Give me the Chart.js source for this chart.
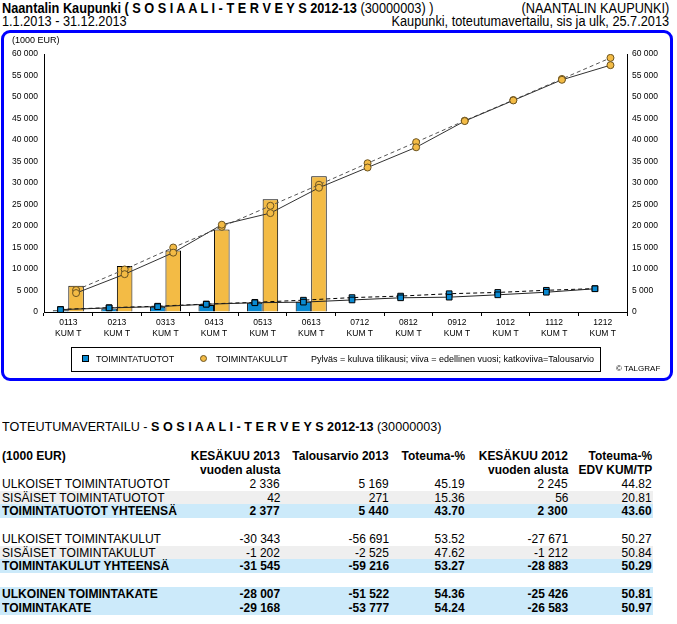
<!DOCTYPE html>
<html>
<head>
<meta charset="utf-8">
<script src="https://cdn.jsdelivr.net/npm/chart.js@4.4.0/dist/chart.umd.min.js"></script>
<style>
body{margin:0;width:677px;height:624px;background:#fff;position:relative;overflow:hidden;
  font-family:"Liberation Sans",Arial,sans-serif;color:#000}
.abs{position:absolute;white-space:nowrap}
.h{font-size:14px;line-height:14px}
.nl{transform:scaleX(0.91);transform-origin:left center}
.nr{transform:scaleX(0.91);transform-origin:right center}
#frame{position:absolute;left:1px;top:30px;width:666px;height:345px;border:3px solid #0000ff;border-radius:9px}
#chartBox{position:absolute;left:0;top:0;width:677px;height:390px}
#legend{position:absolute;left:71px;top:347px;width:528px;height:23px;border:1px solid #000;font-size:9px}
#legend span{position:absolute;top:6px;white-space:nowrap}
.sq{position:absolute;width:5px;height:5px;border:1px solid #000;background:#0a8ad2;top:7px}
.dot{position:absolute;width:5px;height:5px;border:1px solid #6b5320;border-radius:50%;background:#f3bb45;top:7px}
.row{position:absolute;left:0;width:653px;height:14px;font-size:13px;line-height:14px}
.row div{position:absolute;top:0;white-space:nowrap}
.row .cl{transform:scaleX(0.93);transform-origin:left center}
.row .cr{transform:scaleX(0.92);transform-origin:right center}
.g{background:#efefef}
.b{background:#cceafa;font-weight:bold}
.hd{font-weight:bold}
</style>
</head>
<body>
<div class="abs h nl" style="left:2px;top:1px;font-weight:bold">Naantalin Kaupunki ( S O S I A A L I - T E R V E Y S 2012-13 <span style="font-weight:normal">(30000003) )</span></div>
<div class="abs h nr" style="right:8px;top:1px">(NAANTALIN KAUPUNKI)</div>
<div class="abs h nl" style="left:2px;top:14px">1.1.2013 - 31.12.2013</div>
<div class="abs h nr" style="right:8px;top:14px">Kaupunki, toteutumavertailu, sis ja ulk, 25.7.2013</div>

<div id="chartBox"><canvas id="c" width="677" height="390"></canvas></div>
<div id="frame"></div>
<div class="abs" style="left:12px;top:35px;font-size:9px">(1000 EUR)</div>

<div id="legend">
  <div class="sq" style="left:10px"></div><span style="left:24px">TOIMINTATUOTOT</span>
  <div class="dot" style="left:128px"></div><span style="left:144px">TOIMINTAKULUT</span>
  <span style="left:239px">Pylväs = kuluva tilikausi; viiva = edellinen vuosi; katkoviiva=Talousarvio</span>
</div>
<div class="abs" style="left:616px;top:364px;font-size:8px">© TALGRAF</div>

<div class="abs" style="left:2px;top:420px;font-size:13px;line-height:14px;transform:scaleX(0.97);transform-origin:left center">TOTEUTUMAVERTAILU - <b>S O S I A A L I - T E R V E Y S 2012-13</b> (30000003)</div>
<div id="table"></div>

<script>
// x-akselin kuukaudet
const months = ['0113','0213','0313','0413','0513','0613','0712','0812','0912','1012','1112','1212'];
// pylväät = kuluva tilikausi (kumulatiivinen, 1000 EUR)
const tuotot2013 = [400, 800, 1200, 1650, 2150, 2377];
const kulut2013 = [6100, 10700, 14300, 19200, 26200, 31545];
// viiva = edellinen vuosi
const tuototEdv = [550, 950, 1250, 1800, 2150, 2300, 2800, 3300, 3450, 4000, 4600, 5400];
const kulutEdv = [4400, 8800, 13800, 20300, 23000, 28900, 33600, 38300, 44400, 49200, 54000, 57400];
// katkoviiva = talousarvio
const tuototTA = [600, 1000, 1350, 1850, 2250, 2750, 3350, 3700, 4250, 4550, 5050, 5440];
const kulutTA = [5100, 9900, 15000, 19800, 24700, 29600, 34600, 39500, 44500, 49300, 54200, 59100];

const yTicks = [0, 5000, 10000, 15000, 20000, 25000, 30000, 35000, 40000, 45000, 50000, 55000, 60000];

// taulukko
const colRight = [280, 389, 465, 568, 652];
const headRows = [
  ['(1000 EUR)', 'KESÄKUU 2013', 'Talousarvio 2013', 'Toteuma-%', 'KESÄKUU 2012', 'Toteuma-%'],
  ['', 'vuoden alusta', '', '', 'vuoden alusta', 'EDV KUM/TP']
];
const tableRows = [
  ['ULKOISET TOIMINTATUOTOT', '2 336', '5 169', '45.19', '2 245', '44.82', ''],
  ['SISÄISET TOIMINTATUOTOT', '42', '271', '15.36', '56', '20.81', 'g'],
  ['TOIMINTATUOTOT YHTEENSÄ', '2 377', '5 440', '43.70', '2 300', '43.60', 'b'],
  null,
  ['ULKOISET TOIMINTAKULUT', '-30 343', '-56 691', '53.52', '-27 671', '50.27', ''],
  ['SISÄISET TOIMINTAKULUT', '-1 202', '-2 525', '47.62', '-1 212', '50.84', 'g'],
  ['TOIMINTAKULUT YHTEENSÄ', '-31 545', '-59 216', '53.27', '-28 883', '50.29', 'b'],
  null,
  ['ULKOINEN TOIMINTAKATE', '-28 007', '-51 522', '54.36', '-25 426', '50.81', 'b'],
  ['TOIMINTAKATE', '-29 168', '-53 777', '54.24', '-26 583', '50.97', 'b']
];

function rowHtml(cells, y, cls) {
  let h = '<div class="row ' + cls + '" style="top:' + y + 'px"><div class="cl" style="left:2px">' + cells[0] + '</div>';
  for (let i = 1; i < 6; i++) {
    h += '<div class="cr" style="right:' + (653 - colRight[i - 1]) + 'px">' + cells[i] + '</div>';
  }
  return h + '</div>';
}
let html = '';
let rowY = 449;
headRows.forEach(r => { html += rowHtml(r, rowY, 'hd'); rowY += 13.5; });
rowY = 477;
tableRows.forEach(r => {
  if (r === null) { rowY += 14.5; return; }
  html += rowHtml(r, rowY, r[6]);
  rowY += 13.5;
});
document.getElementById('table').innerHTML = html;

// pylväsryhmän leveys kategoriasta; viivojen pisteet pylväiden keskelle
const BAR_GROUP = 0.64;
const shift = BAR_GROUP / 4;
const pts = (arr, d) => arr.map((v, i) => ({x: i + d, y: v}));
const fmt = v => String(v).replace(/\B(?=(\d{3})+(?!\d))/g, ' ');

const orange = '#f3bb45';
const blue = '#0a8ad2';
const tickFont = {family: 'Liberation Sans, Arial, sans-serif', size: 8.5};

const lineBase = {type: 'line', borderWidth: 1, tension: 0, order: 0};
const barBase = {type: 'bar', borderColor: '#000', borderWidth: 1, order: 2,
  categoryPercentage: BAR_GROUP, barPercentage: 1.0};

new Chart(document.getElementById('c'), {
  type: 'bar',
  data: {
    datasets: [
      Object.assign({}, lineBase, {label: 'tuotot edv', data: pts(tuototEdv, -shift), borderColor: '#222',
        pointStyle: 'rect', pointRadius: 4, pointBackgroundColor: blue, pointBorderColor: '#000'}),
      Object.assign({}, lineBase, {label: 'tuotot ta', data: pts(tuototTA, -shift), borderColor: '#000',
        borderDash: [4, 3], pointStyle: 'rect', pointRadius: 4, pointBackgroundColor: blue, pointBorderColor: '#000'}),
      Object.assign({}, lineBase, {label: 'kulut edv', data: pts(kulutEdv, shift), borderColor: '#333',
        pointRadius: 3.5, pointBackgroundColor: orange, pointBorderColor: '#6b5320'}),
      Object.assign({}, lineBase, {label: 'kulut ta', data: pts(kulutTA, shift), borderColor: '#555',
        borderDash: [4, 3], pointRadius: 3.5, pointBackgroundColor: orange, pointBorderColor: '#6b5320'}),
      Object.assign({}, barBase, {label: 'TOIMINTATUOTOT', data: pts(tuotot2013, 0), backgroundColor: blue}),
      Object.assign({}, barBase, {label: 'TOIMINTAKULUT', data: pts(kulut2013, 0), backgroundColor: orange})
    ]
  },
  options: {
    responsive: false,
    animation: false,
    events: [],
    layout: {padding: {top: 54, left: 0, right: 0, bottom: 0}},
    plugins: {legend: {display: false}, tooltip: {enabled: false}},
    scales: {
      x: {
        type: 'linear', offset: false, min: -0.5, max: 11.5,
        afterBuildTicks: s => { s.ticks = months.map((m, i) => ({value: i})); },
        grid: {offset: true, drawOnChartArea: false, drawTicks: true, tickLength: 4, color: '#000'},
        border: {color: '#000', width: 1},
        ticks: {color: '#000', font: tickFont, padding: 2, maxRotation: 0, autoSkip: false,
          callback: v => [months[v], 'KUM T']},
        afterFit: s => { s.height = 78; }
      },
      y: {
        position: 'left', min: 0, max: 60000,
        afterBuildTicks: s => { s.ticks = yTicks.map(v => ({value: v})); },
        ticks: {callback: fmt, color: '#000', padding: 6, font: tickFont},
        grid: {drawOnChartArea: false, drawTicks: false},
        border: {color: '#000', width: 1},
        afterFit: s => { s.width = 44; }
      },
      y2: {
        position: 'right', min: 0, max: 60000,
        afterBuildTicks: s => { s.ticks = yTicks.map(v => ({value: v})); },
        ticks: {callback: fmt, color: '#000', padding: 5, font: tickFont},
        grid: {drawOnChartArea: false, drawTicks: false},
        border: {color: '#000', width: 1},
        afterFit: s => { s.width = 50; }
      }
    }
  }
});
</script>
</body>
</html>
